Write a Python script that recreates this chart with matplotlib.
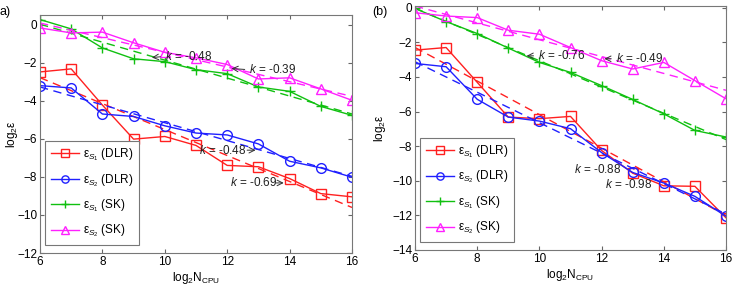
import numpy as np
import matplotlib
matplotlib.use('Agg')
import matplotlib.pyplot as plt

plt.rcParams['font.family'] = ['Liberation Sans', 'DejaVu Sans']
plt.rcParams['mathtext.fontset'] = 'custom'
plt.rcParams['mathtext.rm'] = 'Liberation Sans'
plt.rcParams['mathtext.it'] = 'Liberation Sans:italic'

x = np.arange(6, 17)

# panel a)
a_dlr_s1 = [-2.49, -2.33, -4.23, -6.02, -5.88, -6.35, -7.40, -7.47, -8.09, -8.88, -9.05]
a_dlr_s2 = [-3.21, -3.33, -4.70, -4.83, -5.32, -5.70, -5.80, -6.27, -7.18, -7.53, -8.02]
a_sk_s1 = [0.26, -0.23, -1.23, -1.80, -1.95, -2.37, -2.58, -3.28, -3.51, -4.30, -4.77]
a_sk_s2 = [-0.18, -0.44, -0.40, -0.96, -1.46, -1.75, -2.10, -2.86, -2.80, -3.38, -3.98]

# panel (b)
b_dlr_s1 = [-2.45, -2.30, -4.31, -6.32, -6.41, -6.28, -8.25, -9.56, -10.29, -10.32, -12.14]
b_dlr_s2 = [-3.22, -3.41, -5.29, -6.32, -6.55, -6.99, -8.37, -9.52, -10.13, -10.90, -12.05]
b_sk_s1 = [-0.04, -0.80, -1.49, -2.33, -3.16, -3.74, -4.50, -5.30, -6.13, -7.09, -7.47]
b_sk_s2 = [-0.29, -0.48, -0.57, -1.30, -1.53, -2.30, -3.06, -3.54, -3.16, -4.21, -5.26]

labels = [r'$\mathrm{ε}_{S_1}$ (DLR)', r'$\mathrm{ε}_{S_2}$ (DLR)',
          r'$\mathrm{ε}_{S_1}$ (SK)', r'$\mathrm{ε}_{S_2}$ (SK)']
colors = ['#ff2020', '#2020ff', '#10c010', '#ff20ff']
markers = ['s', 'o', '+', '^']

# slope annotations: text, text pos, arrow tip (None = no arrow)
a_notes = [('k = -0.48', (10.0, -1.68), (9.5, -1.75)),
           ('k = -0.39', (12.7, -2.37), (12.05, -2.3)),
           ('k = -0.48', (11.1, -6.6), (13.0, -6.6)),
           ('k = -0.69', (12.1, -8.32), (13.9, -8.32))]
b_notes = [('k = -0.76', (9.95, -2.78), (9.5, -2.78)),
           ('k = -0.49', (12.45, -2.95), (12.0, -2.95)),
           ('k = -0.88', (11.1, -9.33), None),
           ('k = -0.98', (12.1, -10.23), None)]

fig = plt.figure(figsize=(7.35, 2.86), dpi=100)
ax1 = fig.add_axes([40/735, 33/286, 312/735, 238/286])
ax2 = fig.add_axes([415/735, 36/286, 311/735, 244/286])


def draw(ax, series, notes, ylim, yticks, ylab_x):
    for ys, c, m, lab in zip(series, colors, markers, labels):
        ax.plot(x, ys, color=c, marker=m, markersize=7, markerfacecolor='none',
                markeredgewidth=1, linewidth=1, label=lab)
        k, b = np.polyfit(x, ys, 1)
        ax.plot(x, k*x + b, color=c, linestyle=(0, (6, 4)), linewidth=1)
    for txt, pos, tip in notes:
        t = txt.split(' ', 1)
        ax.text(pos[0], pos[1], r'$\it{k}$ ' + t[1], fontsize=8.5,
                va='center', ha='left', color='#222222')
        if tip is not None:
            if tip[0] < pos[0]:
                start = (pos[0] - 0.05, pos[1])
            else:
                start = (tip[0] - 0.45, pos[1])
            ax.annotate('', xy=tip, xytext=start,
                        arrowprops=dict(arrowstyle='->', color='#333333', lw=0.7))
    ax.set_xlim(6, 16)
    ax.set_ylim(*ylim)
    ax.set_xticks([6, 8, 10, 12, 14, 16])
    ax.set_yticks(yticks)
    ax.tick_params(direction='in', top=True, right=True, labelsize=8.5,
                   length=3, color='#666666', pad=2)
    for s in ax.spines.values():
        s.set_color('#777777')
        s.set_linewidth(0.8)
    ax.set_xlabel(r'log$_2$N$_{\mathrm{CPU}}$', fontsize=8.5)
    ax.xaxis.set_label_coords(0.5, -0.07)
    ax.set_ylabel(r'log$_2\mathrm{ε}$', fontsize=8.5)
    ax.yaxis.set_label_coords(ylab_x, 0.5)
    leg = ax.legend(loc='lower left', bbox_to_anchor=(0.01, 0.025), fontsize=8.5,
                    fancybox=False, edgecolor='#777777', labelspacing=0.75,
                    handlelength=2.4, borderpad=0.45, handletextpad=0.3,
                    borderaxespad=0.2, framealpha=1, markerscale=0.75)
    leg.get_frame().set_linewidth(0.8)


draw(ax1, [a_dlr_s1, a_dlr_s2, a_sk_s1, a_sk_s2], a_notes, (-12, 0.5),
     [-12, -10, -8, -6, -4, -2, 0], -0.064)
draw(ax2, [b_dlr_s1, b_dlr_s2, b_sk_s1, b_sk_s2], b_notes, (-14, 0.1),
     [-14, -12, -10, -8, -6, -4, -2, 0], -0.087)

fig.text(0/735, 1 - 12/286, 'a)', fontsize=9, va='center')
fig.text(372/735, 1 - 12/286, '(b)', fontsize=9, va='center')

fig.savefig('out.png', dpi=100)
